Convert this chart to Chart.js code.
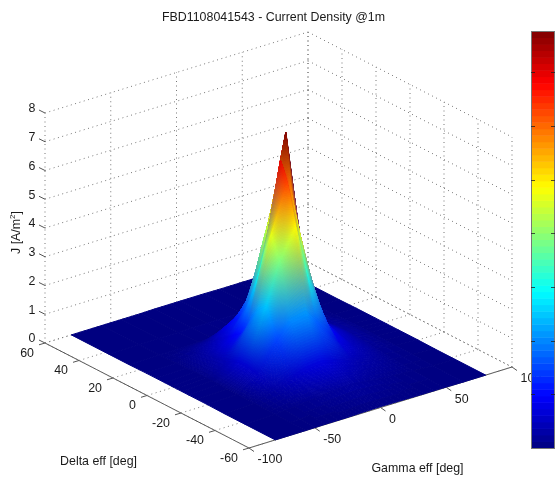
<!DOCTYPE html>
<html><head><meta charset="utf-8">
<style>html,body{margin:0;padding:0;background:#fff}canvas{display:block}</style>
<script src="https://cdn.jsdelivr.net/npm/chart.js@4"></script></head>
<body><canvas id="c" width="557" height="480"></canvas>
<script>
const titleText = 'FBD1108041543 - Current Density @1m';
const gammaLabel = 'Gamma eff [deg]';
const deltaLabel = 'Delta eff [deg]';
const gammaTicks = [-100,-50,0,50,100];
const deltaTicks = [-60,-40,-20,0,20,40,60];
const zTicks = [0,1,2,3,4,5,6,7,8];
const colorbarTicks = [1,2,3,4,5,6,7];
const colorMax = 7.77;
const gammaGrid = [-80,-57,-42,-27,-17,-5,3,21,33,48,63,80];
const deltaGrid = [-60,-42,-30,-20,-14,-9,-5,-2,1,5,10,16,26,38,60];
const jRow0  = [0,0,.01,.01,.02,.03,.03,.02,.01,.01,0,0];
const jRow1  = [0,.02,.08,.15,.2,.25,.25,.15,.1,.05,.02,0];
const jRow2  = [0,.04,.25,.5,.65,.7,.6,.35,.25,.1,.04,0];
const jRow3  = [.01,.05,.5,1.5,2.0,2.1,1.7,.7,.42,.16,.05,.01];
const jRow4  = [.01,.05,.6,2.5,3.9,4.9,3.2,1.0,.5,.2,.05,.01];
const jRow5  = [.01,.06,.6,2.2,4.7,6.3,4.7,1.2,.6,.22,.06,.01];
const jRow6  = [.01,.06,.5,1.8,3.9,7.0,5.8,1.3,.65,.24,.06,.01];
const jRow7  = [.01,.06,.42,1.4,3.1,5.6,7.77,1.3,.65,.24,.06,.01];
const jRow8  = [.01,.06,.38,1.1,2.5,4.7,6.75,1.3,.65,.24,.06,.01];
const jRow9  = [.01,.06,.32,.9,1.8,3.9,5.1,1.2,.6,.22,.06,.01];
const jRow10 = [.01,.05,.28,.65,1.2,2.3,3.2,.95,.55,.2,.05,.01];
const jRow11 = [.01,.03,.18,.42,.85,1.15,1.43,.5,.32,.12,.03,.01];
const jRow12 = [0,.01,.02,.03,.05,.07,.08,.05,.03,.02,.01,0];
const jRow13 = [0,0,.01,.01,.02,.02,.03,.02,.01,.01,0,0];
const jRow14 = [0,0,0,0,.01,.01,.01,.01,0,0,0,0];
const jRows = [jRow0,jRow1,jRow2,jRow3,jRow4,jRow5,jRow6,jRow7,jRow8,jRow9,jRow10,jRow11,jRow12,jRow13,jRow14];

// Orthographic view of the 3D axes box, expressed in chart-scale units
const view = {ox:249, oy:448, gx:263/200, gy:-81/200, dx:-204/120, dy:-105/120, zy:-28.75};
function proj(g,d,z){
  return {x:view.ox+(g+100)*view.gx+(d+60)*view.dx, y:view.oy+(g+100)*view.gy+(d+60)*view.dy+z*view.zy};
}
function jet(v){
  const t=Math.max(0,Math.min(1,v/colorMax));
  const f=c=>255*Math.max(0,Math.min(1,1.5-Math.abs(4*t-c)));
  return [f(3),f(2),f(1)];
}
const gap={x:NaN,y:NaN};
const gMin=gammaTicks[0],gMax=gammaTicks[gammaTicks.length-1];
const dMin=deltaTicks[0],dMax=deltaTicks[deltaTicks.length-1];
const zMin=zTicks[0],zMax=zTicks[zTicks.length-1];
const dotted=[];
function seg(arr,a,b){arr.push(a,b,gap);}
gammaTicks.forEach(g=>{
  seg(dotted,proj(g,dMin,zMin),proj(g,dMax,zMin));
  seg(dotted,proj(g,dMax,zMin),proj(g,dMax,zMax));
});
deltaTicks.forEach(d=>{
  seg(dotted,proj(gMin,d,zMin),proj(gMax,d,zMin));
  seg(dotted,proj(gMax,d,zMin),proj(gMax,d,zMax));
});
zTicks.forEach(z=>{
  seg(dotted,proj(gMin,dMax,z),proj(gMax,dMax,z));
  seg(dotted,proj(gMax,dMax,z),proj(gMax,dMin,z));
});
const axes=[];
seg(axes,proj(gMin,dMax,zMin),proj(gMin,dMin,zMin));
seg(axes,proj(gMin,dMin,zMin),proj(gMax,dMin,zMin));
gammaTicks.forEach(g=>{const a=proj(g,dMin,zMin);seg(axes,a,{x:a.x+5,y:a.y+3.5});});
deltaTicks.forEach(d=>{const a=proj(gMin,d,zMin);seg(axes,a,{x:a.x-6,y:a.y+1.8});});
zTicks.forEach(z=>{const a=proj(gMin,dMax,z);seg(axes,a,{x:a.x-6,y:a.y-3});});
const surf=[];
deltaGrid.forEach((d,i)=>gammaGrid.forEach((g,j)=>{const p=proj(g,d,jRows[i][j]);surf.push({x:p.x,y:p.y,z:jRows[i][j]});}));

const surfacePlugin={id:'surface',afterDatasetsDraw(chart){
  const ctx=chart.ctx, pts=chart.getDatasetMeta(2).data, nG=gammaGrid.length;
  const at=(i,j)=>{const e=pts[i*nG+j];return {x:e.x,y:e.y,c:jet(jRows[i][j])};};
  ctx.save();
  ctx.lineWidth=1; ctx.lineJoin='round';
  for(let i=deltaGrid.length-2;i>=0;i--)for(let j=nG-2;j>=0;j--){
    const A=at(i,j),B=at(i,j+1),C=at(i+1,j+1),D=at(i+1,j);
    const spread=Math.max(...[0,1,2].map(k=>Math.max(A.c[k],B.c[k],C.c[k],D.c[k])-Math.min(A.c[k],B.c[k],C.c[k],D.c[k])));
    const n=Math.max(1,Math.min(24,Math.ceil(spread/8)));
    const mix=(u,v,get)=>(1-u)*(1-v)*get(A)+u*(1-v)*get(B)+u*v*get(C)+(1-u)*v*get(D);
    for(let a=n-1;a>=0;a--)for(let b=n-1;b>=0;b--){
      const u0=b/n,u1=(b+1)/n,v0=a/n,v1=(a+1)/n,um=(u0+u1)/2,vm=(v0+v1)/2;
      const col='rgb('+[0,1,2].map(k=>Math.round(mix(um,vm,o=>o.c[k]))).join(',')+')';
      ctx.fillStyle=col;ctx.strokeStyle=col;
      ctx.beginPath();
      ctx.moveTo(mix(u0,v0,o=>o.x),mix(u0,v0,o=>o.y));
      ctx.lineTo(mix(u1,v0,o=>o.x),mix(u1,v0,o=>o.y));
      ctx.lineTo(mix(u1,v1,o=>o.x),mix(u1,v1,o=>o.y));
      ctx.lineTo(mix(u0,v1,o=>o.x),mix(u0,v1,o=>o.y));
      ctx.closePath();ctx.fill();ctx.stroke();
    }
  }
  ctx.restore();
  // text
  ctx.save();
  ctx.fillStyle='#1a1a1a';
  const font='12.4px "Liberation Sans"';
  ctx.font=font;
  ctx.textBaseline='middle';
  ctx.textAlign='center';
  ctx.fillText(titleText,273.5,18);
  zTicks.forEach(z=>{const a=proj(gMin,dMax,z);ctx.fillText(String(z),a.x-13,a.y-4);});
  ctx.textAlign='right';
  deltaTicks.forEach(d=>{const a=proj(gMin,d,zMin);ctx.fillText(String(d),a.x-11,a.y+10.5);});
  ctx.textAlign='left';
  gammaTicks.forEach(g=>{const a=proj(g,dMin,zMin);ctx.fillText(String(g),a.x+8.5,a.y+12);});
  ctx.textAlign='center';
  ctx.fillText(deltaLabel,98.5,462);
  ctx.fillText(gammaLabel,417.5,469);
  ctx.translate(17,228);ctx.rotate(-Math.PI/2);
  ctx.textAlign='left';
  ctx.fillText('J [A/m',-26,0);
  const w=ctx.measureText('J [A/m').width;
  ctx.font='8px "Liberation Sans"';ctx.fillText('2',-26+w,-4);
  const w2=ctx.measureText('2').width;
  ctx.font=font;ctx.fillText(']',-26+w+w2,0);
  ctx.restore();
  // colorbar
  const bar={l:531,r:555,t:31,b:448};
  ctx.save();
  const levels=64;
  for(let k=0;k<levels;k++){
    const c=jet((k+.5)/levels*colorMax);
    ctx.fillStyle='rgb('+c.map(Math.round).join(',')+')';
    const y1=bar.b-(bar.b-bar.t)*k/levels,y0=bar.b-(bar.b-bar.t)*(k+1)/levels;
    ctx.fillRect(bar.l,y0,bar.r-bar.l,y1-y0+.5);
  }
  ctx.strokeStyle='#777';ctx.lineWidth=1;
  ctx.strokeRect(bar.l+.5,bar.t+.5,bar.r-bar.l-1,bar.b-bar.t);
  ctx.strokeStyle='rgba(30,30,30,.75)';
  colorbarTicks.forEach(v=>{
    const y=Math.round(bar.b-(bar.b-bar.t)*v/colorMax)+.5;
    ctx.beginPath();ctx.moveTo(bar.l,y);ctx.lineTo(bar.l+4,y);ctx.moveTo(bar.r-4,y);ctx.lineTo(bar.r,y);ctx.stroke();
  });
  ctx.restore();
}};

new Chart(document.getElementById('c'),{
  type:'scatter',
  data:{datasets:[
    {label:'grid',data:dotted,showLine:true,spanGaps:false,pointRadius:0,borderColor:'#777',borderWidth:1,borderDash:[1,3.5]},
    {label:'axes',data:axes,showLine:true,spanGaps:false,pointRadius:0,borderColor:'#555',borderWidth:1},
    {label:'J',data:surf,showLine:false,pointRadius:0}
  ]},
  options:{
    responsive:false,animation:false,
    layout:{padding:0},
    plugins:{legend:{display:false},tooltip:{enabled:false},title:{display:false}},
    scales:{
      x:{type:'linear',min:0,max:557,display:false},
      y:{type:'linear',min:0,max:480,reverse:true,display:false}
    }
  },
  plugins:[surfacePlugin]
});
</script></body></html>
